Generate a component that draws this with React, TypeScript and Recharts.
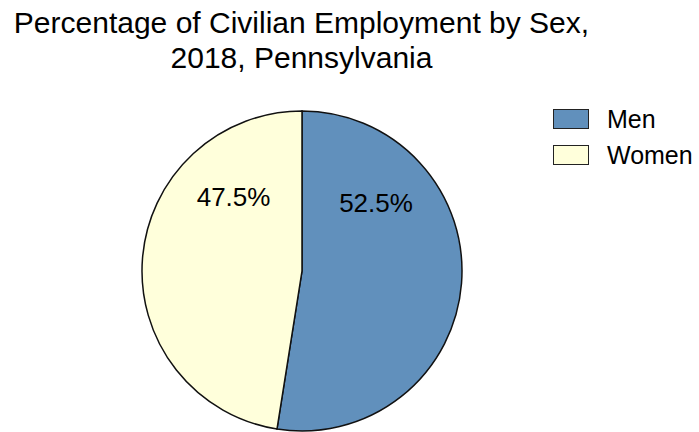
import React from "react";
import { PieChart, Pie, Cell, Legend } from "recharts";

const categories = ["Men", "Women"];
const shares = [52.5, 47.5];
const colors = ["#6190bc", "#ffffdb"];
const titleLines = ["Percentage of Civilian Employment by Sex,", "2018, Pennsylvania"];

const data = categories.map((name, i) => ({ name, value: shares[i] }));

const RAD = Math.PI / 180;

const renderLabel = (p: any) => {
  const { cx, cy, outerRadius, startAngle, endAngle, midAngle, index, value } = p;
  // labels sit halfway between 12 o'clock and the slice's middle
  const a = index === 0 ? (startAngle + midAngle) / 2 : (endAngle + midAngle) / 2;
  const r = outerRadius * 0.63;
  const x = cx + r * Math.cos(-a * RAD);
  const y = cy + r * Math.sin(-a * RAD);
  return (
    <text x={x} y={y} textAnchor="middle" dominantBaseline="central" fill="#000" fontSize={26}>
      {value.toFixed(1)}%
    </text>
  );
};

const renderLegend = () => (
  <div style={{ fontSize: 25, color: "#000" }}>
    {categories.map((c, i) => (
      <div key={c} style={{ display: "flex", alignItems: "center", height: 36 }}>
        <div
          style={{
            width: 34,
            height: 18,
            background: colors[i],
            border: "1.5px solid #222",
            marginRight: 18,
          }}
        />
        <span>{c}</span>
      </div>
    ))}
  </div>
);

export default function App() {
  return (
    <div
      style={{
        position: "absolute",
        left: 0,
        top: 0,
        width: 699,
        height: 432,
        background: "#fff",
        fontFamily: "'Liberation Sans', Arial, sans-serif",
      }}
    >
      <div
        style={{
          position: "absolute",
          left: 0,
          width: 603,
          top: 5,
          textAlign: "center",
          fontSize: 30,
          lineHeight: "35px",
          color: "#000",
        }}
      >
        {titleLines.map((t) => (
          <div key={t}>{t}</div>
        ))}
      </div>
      <PieChart
        width={699}
        height={432}
        margin={{ top: 0, right: 0, bottom: 0, left: 0 }}
        style={{ position: "absolute", left: 0, top: 0 }}
      >
        <Pie
          data={data}
          dataKey="value"
          nameKey="name"
          cx={302}
          cy={271}
          outerRadius={160}
          startAngle={90}
          endAngle={-270}
          stroke="#111"
          strokeWidth={1.5}
          label={renderLabel}
          labelLine={false}
          isAnimationActive={false}
        >
          {data.map((d, i) => (
            <Cell key={d.name} fill={colors[i]} />
          ))}
        </Pie>
        <Legend
          content={renderLegend}
          layout="vertical"
          wrapperStyle={{ position: "absolute", left: 553, top: 101, width: 146 }}
        />
      </PieChart>
    </div>
  );
}
